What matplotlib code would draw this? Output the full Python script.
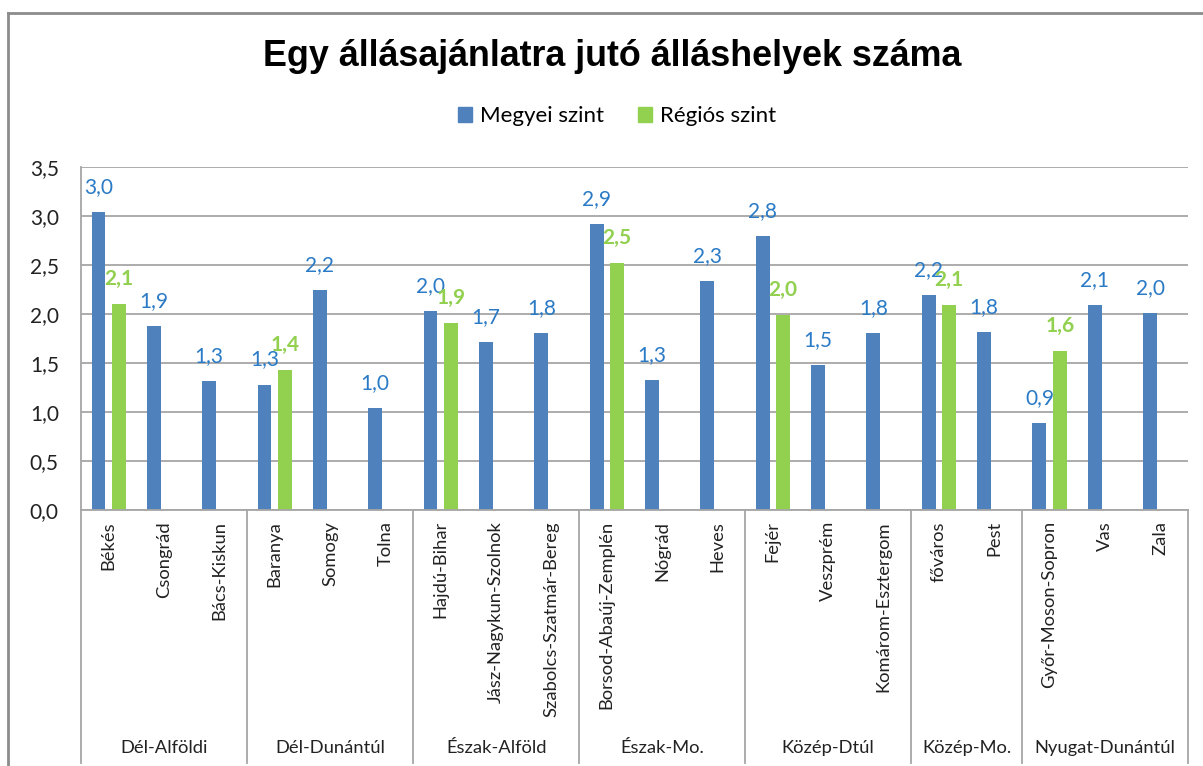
import matplotlib
matplotlib.use('Agg')  # headless mode
import matplotlib.pyplot as plt
import matplotlib.transforms as mtransforms
from matplotlib.lines import Line2D
from matplotlib.patches import Patch
import numpy as np

# -----------------------------
# data
# -----------------------------
title = "Egy állásajánlatra jutó álláshelyek száma"
counties = ["Békés", "Csongrád", "Bács-Kiskun",
            "Baranya", "Somogy", "Tolna",
            "Hajdú-Bihar", "Jász-Nagykun-Szolnok", "Szabolcs-Szatmár-Bereg",
            "Borsod-Abaúj-Zemplén", "Nógrád", "Heves",
            "Fejér", "Veszprém", "Komárom-Esztergom",
            "főváros", "Pest",
            "Győr-Moson-Sopron", "Vas", "Zala"]
regions = ["Dél-Alföldi", "Dél-Dunántúl", "Észak-Alföld", "Észak-Mo.",
           "Közép-Dtúl", "Közép-Mo.", "Nyugat-Dunántúl"]
region_sizes = [3, 3, 3, 3, 3, 2, 3]
megyei = [3.04, 1.88, 1.32,
          1.28, 2.24, 1.04,
          2.03, 1.71, 1.81,
          2.92, 1.33, 2.34,
          2.80, 1.48, 1.81,
          2.19, 1.82,
          0.89, 2.09, 2.01]
regios = [2.10, None, None,
          1.43, None, None,
          1.91, None, None,
          2.52, None, None,
          1.99, None, None,
          2.09, None,
          1.62, None, None]
series_names = ["Megyei szint", "Régiós szint"]
yticks = [0.0, 0.5, 1.0, 1.5, 2.0, 2.5, 3.0, 3.5]

BLUE = "#4F81BD"
GREEN = "#92D050"
BLUE_LBL = "#2A7AC6"
GRID = "#A6A6A6"
TXT = "#222222"

plt.rcParams['font.family'] = ['Lato', 'DejaVu Sans']

W, H = 1203, 766
fig = plt.figure(figsize=(W / 100, H / 100), dpi=100)
ax = fig.add_axes([81 / W, 1 - 510 / H, (1188 - 81) / W, (510 - 167) / H])

x = np.arange(len(counties))
off, bw = 0.185, 0.25
ax.bar(x - off, megyei, width=bw, color=BLUE, zorder=3)
green_vals = np.array([np.nan if v is None else v for v in regios])
ax.bar(x + off, green_vals, width=bw, color=GREEN, zorder=3)

# data labels
for xi, v in zip(x, megyei):
    ax.annotate(f"{v:.1f}".replace('.', ','), (xi - off, v), xytext=(0, 18),
                textcoords='offset points', ha='center', va='center',
                fontsize=15, color=BLUE_LBL, zorder=5)
for xi, v in zip(x, regios):
    if v is None:
        continue
    ax.annotate(f"{v:.1f}".replace('.', ','), (xi + off, v), xytext=(0, 18),
                textcoords='offset points', ha='center', va='center',
                fontsize=15, color=GREEN, fontweight='bold', zorder=5)

# y axis
ax.set_ylim(0, 3.5)
ax.set_yticks(yticks)
ax.set_yticklabels([f"{t:.1f}".replace('.', ',') for t in yticks],
                   fontsize=15, color=TXT)
ax.tick_params(axis='y', length=0, pad=16)
ax.yaxis.grid(True, color=GRID, lw=1.3, zorder=0)

# x axis (county labels)
ax.set_xlim(-0.5, len(counties) - 0.5)
ax.set_xticks(x)
ax.set_xticklabels(counties, rotation=90, fontsize=13.2, color=TXT)
ax.tick_params(axis='x', length=0, pad=8)

for s in ["top", "right", "left", "bottom"]:
    ax.spines[s].set_visible(False)

trans = mtransforms.blended_transform_factory(ax.transData, ax.transAxes)
ybot = -(763 - 510) / 343
ax.plot([-0.5, -0.5], [ybot, 1], transform=trans, color=GRID, lw=1.3,
        clip_on=False, zorder=4)
ax.plot([-0.5, len(counties) - 0.5], [0, 0], transform=trans, color=GRID,
        lw=1.3, clip_on=False, zorder=4)

# region groups
edges = np.concatenate([[0], np.cumsum(region_sizes)]) - 0.5
for e in edges[1:]:
    ax.plot([e, e], [ybot, 0], transform=trans, color=GRID, lw=1.3,
            clip_on=False)
for name, a, b in zip(regions, edges[:-1], edges[1:]):
    ax.text((a + b) / 2, -(748 - 510) / 343, name, transform=trans,
            ha='center', va='center', fontsize=13.2, color=TXT)

# title and legend
fig.text(612 / W, 1 - 56 / H, title, ha='center', va='center',
         fontsize=25.8, fontweight='bold', family='Liberation Sans')
handles = [Patch(color=BLUE), Patch(color=GREEN)]
fig.legend(handles, series_names, loc='center', ncol=2, frameon=False,
           bbox_to_anchor=(617 / W, 1 - 116 / H), fontsize=16,
           handlelength=0.65, handleheight=0.65, handletextpad=0.35,
           columnspacing=1.5)

# chart frame
fig.add_artist(Line2D([8 / W, 8 / W], [0, 1 - 13 / H], color="#8C8C8C", lw=2))
fig.add_artist(Line2D([8 / W, 1], [1 - 13 / H, 1 - 13 / H], color="#8C8C8C", lw=2))

fig.savefig("out.png", dpi=100)
